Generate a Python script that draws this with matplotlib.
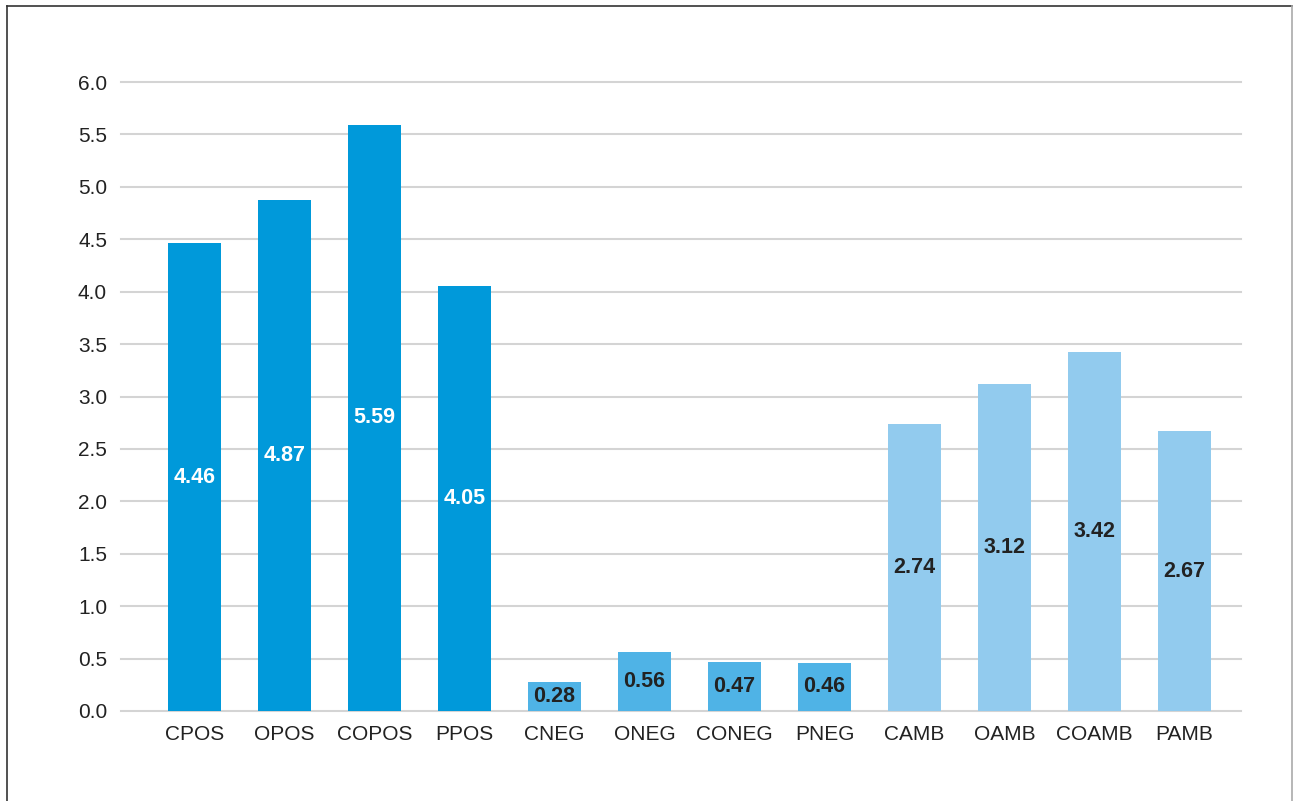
import matplotlib
matplotlib.use("Agg")
import matplotlib.pyplot as plt
from matplotlib.lines import Line2D

categories = ["CPOS", "OPOS", "COPOS", "PPOS", "CNEG", "ONEG", "CONEG", "PNEG",
              "CAMB", "OAMB", "COAMB", "PAMB"]
values = [4.46, 4.87, 5.59, 4.05, 0.28, 0.56, 0.47, 0.46, 2.74, 3.12, 3.42, 2.67]
groups = ["POS"] * 4 + ["NEG"] * 4 + ["AMB"] * 4
yticks = [0.0, 0.5, 1.0, 1.5, 2.0, 2.5, 3.0, 3.5, 4.0, 4.5, 5.0, 5.5, 6.0]

bar_colors = {"POS": "#0099DA", "NEG": "#4FB3E6", "AMB": "#92CBEE"}
label_colors = {"POS": "white", "NEG": "#222222", "AMB": "#222222"}

plt.rcParams['font.family'] = ['Liberation Sans', 'DejaVu Sans']

fig = plt.figure(figsize=(12.93, 8.01), dpi=100)
ax = fig.add_axes([121/1293, 1 - 711/801, (1241-121)/1293, (711-82)/801])

x = list(range(len(categories)))
for yt in yticks:
    ax.axhline(yt, color="#d4d4d4", linewidth=1.5, zorder=0, clip_on=False)

ax.bar(x, values, width=0.59, color=[bar_colors[g] for g in groups], zorder=2)

for xi, v, g in zip(x, values, groups):
    ax.text(xi, v / 2, f"{v:.2f}", ha="center", va="center", fontsize=15.5,
            fontweight="bold", color=label_colors[g], zorder=3)

ax.set_xlim(-0.82, 11.63)
ax.set_ylim(0, 6)
ax.set_yticks(yticks)
ax.set_yticklabels([f"{t:.1f}" for t in yticks], fontsize=15, color="#222222")
ax.set_xticks(x)
ax.set_xticklabels(categories, fontsize=15, color="#222222")
ax.tick_params(axis="both", length=0)
ax.tick_params(axis="y", pad=10)
ax.tick_params(axis="x", pad=10)
for s in ax.spines.values():
    s.set_visible(False)

W, H = 1293, 801
fig.add_artist(Line2D([7/W, 1292/W], [1 - 6/H, 1 - 6/H], color="#333333", linewidth=1.2))
fig.add_artist(Line2D([7/W, 7/W], [1 - 6/H, 0], color="#333333", linewidth=1.2))
fig.add_artist(Line2D([1292/W, 1292/W], [1 - 6/H, 0], color="#aaaaaa", linewidth=1.2))

fig.savefig("out.png", dpi=100, facecolor="white")
